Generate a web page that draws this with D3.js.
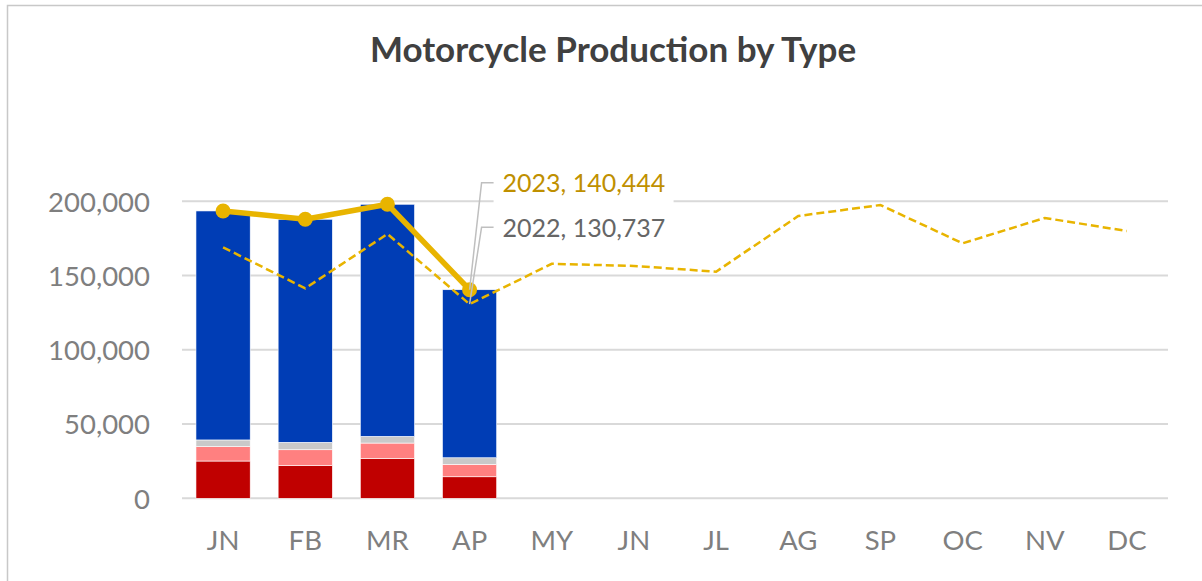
<!DOCTYPE html>
<html>
<head>
<meta charset="utf-8">
<script src="https://cdn.jsdelivr.net/npm/d3@7"></script>
<style>
    body { margin: 0; background: #fff; }
    svg text { font-family: Lato, 'Open Sans', sans-serif; }
</style>
</head>
<body>
<div id="chart"></div>
<script>
// Data
const months = ['JN', 'FB', 'MR', 'AP', 'MY', 'JN ', 'JL', 'AG', 'SP', 'OC', 'NV', 'DC'];
const monthLabels = ['JN', 'FB', 'MR', 'AP', 'MY', 'JN', 'JL', 'AG', 'SP', 'OC', 'NV', 'DC'];
const typeKeys = ['typeA', 'typeB', 'typeC', 'typeD']; // bottom to top
const typeColors = ['#c00000', '#ff8080', '#c9c9c9', '#003db5'];
const typeA = [25100, 22000, 26900, 14500];
const typeB = [9700, 10700, 10300, 8400];
const typeC = [4500, 5000, 4500, 4400];
const typeD = [154200, 150200, 156300, 113144];
const total2023 = [193500, 187900, 198000, 140444];
const total2022 = [169000, 141400, 178000, 130737, 157900, 156500, 152600, 190100, 197500, 171700, 188800, 180000];
const yTicks = [0, 50000, 100000, 150000, 200000];

function draw() {
    const dimensions = {
        width: 1202,
        height: 581,
        left: 182,
        right: 1168,
        top: 201.3,
        bottom: 498.3
    }

    const svg = d3.select('#chart')
        .append('svg')
        .attr('width', dimensions.width)
        .attr('height', dimensions.height)

    // chart frame
    svg.append('rect')
        .attr('x', 7.5)
        .attr('y', 5.5)
        .attr('width', 1210)
        .attr('height', 600)
        .attr('fill', 'none')
        .attr('stroke', '#c8c8c8')
        .attr('stroke-width', 1.5)

    svg.append('text')
        .attr('x', 613)
        .attr('y', 62)
        .attr('text-anchor', 'middle')
        .attr('font-size', 35)
        .attr('font-weight', 'bold')
        .attr('fill', '#404040')
        .text('Motorcycle Production by Type')

    // Scales
    const xScale = d3.scaleBand()
        .domain(months)
        .range([dimensions.left, dimensions.right])
        .paddingInner(0.34)
        .paddingOuter(0.17)

    const xCenter = d => xScale(d) + xScale.bandwidth() / 2

    const yScale = d3.scaleLinear()
        .domain([0, 200000])
        .range([dimensions.bottom, dimensions.top])

    // gridlines
    svg.append('g')
        .selectAll('line')
        .data(yTicks)
        .join('line')
        .attr('x1', dimensions.left)
        .attr('x2', dimensions.right)
        .attr('y1', d => yScale(d))
        .attr('y2', d => yScale(d))
        .attr('stroke', '#d9d9d9')
        .attr('stroke-width', 2)

    // y axis labels
    const yAxis = d3.axisLeft(yScale)
        .tickValues(yTicks)
        .tickFormat(d3.format(','))
        .tickSize(0)
        .tickPadding(0)

    const yAxisGroup = svg.append('g')
        .attr('transform', 'translate(150, 0)')
        .call(yAxis)
    yAxisGroup.select('.domain').remove()
    yAxisGroup.selectAll('text')
        .attr('font-size', 27.5)
        .attr('font-family', 'Lato, sans-serif')
        .attr('fill', '#7f7f7f')
        .attr('dy', '0.36em')

    // x axis labels
    const xAxis = d3.axisBottom(xScale)
        .tickFormat((d, i) => monthLabels[i])
        .tickSize(0)
        .tickPadding(0)

    const xAxisGroup = svg.append('g')
        .attr('transform', 'translate(0, 550)')
        .call(xAxis)
    xAxisGroup.select('.domain').remove()
    xAxisGroup.selectAll('text')
        .attr('font-size', 27.5)
        .attr('font-family', 'Lato, sans-serif')
        .attr('fill', '#7f7f7f')
        .attr('dy', 0)

    // stacked bars
    const table = typeA.map((v, i) => ({
        month: months[i],
        typeA: typeA[i],
        typeB: typeB[i],
        typeC: typeC[i],
        typeD: typeD[i]
    }))
    const stacked = d3.stack().keys(typeKeys)(table)

    svg.append('g')
        .selectAll('g')
        .data(stacked)
        .join('g')
        .attr('fill', (d, i) => typeColors[i])
        .selectAll('rect')
        .data(d => d)
        .join('rect')
        .attr('x', d => xScale(d.data.month))
        .attr('y', d => yScale(d[1]))
        .attr('width', xScale.bandwidth())
        .attr('height', d => yScale(d[0]) - yScale(d[1]))
        .attr('stroke', '#ffffff')
        .attr('stroke-width', 0.6)

    // 2022 dashed line
    const line = d3.line()
        .x(d => xCenter(d.month))
        .y(d => yScale(d.value))

    const data2022 = total2022.map((v, i) => ({ month: months[i], value: v }))
    const data2023 = total2023.map((v, i) => ({ month: months[i], value: v }))

    svg.append('path')
        .datum(data2022)
        .attr('d', line)
        .attr('fill', 'none')
        .attr('stroke', '#e8b400')
        .attr('stroke-width', 2.5)
        .attr('stroke-dasharray', '8,4')

    // 2023 solid line with markers
    svg.append('path')
        .datum(data2023)
        .attr('d', line)
        .attr('fill', 'none')
        .attr('stroke', '#e8b400')
        .attr('stroke-width', 5.5)
        .attr('stroke-linejoin', 'round')

    svg.append('g')
        .selectAll('circle')
        .data(data2023)
        .join('circle')
        .attr('cx', d => xCenter(d.month))
        .attr('cy', d => yScale(d.value))
        .attr('r', 7.5)
        .attr('fill', '#e8b400')

    // data labels on the April points
    const labels = [
        { d: data2023[3], year: '2023', color: '#bf9000', dy: -107, dyText: 9 },
        { d: data2022[3], year: '2022', color: '#666666', dy: -77, dyText: 10 }
    ]

    labels.forEach(l => {
        const px = xCenter(l.d.month)
        const py = yScale(l.d.value)
        const ly = py + l.dy
        svg.append('rect')
            .attr('x', px + 24)
            .attr('y', ly - 16)
            .attr('width', 180)
            .attr('height', 38)
            .attr('fill', '#ffffff')
        svg.append('polyline')
            .attr('points', `${px},${py} ${px + 12},${ly} ${px + 24},${ly}`)
            .attr('fill', 'none')
            .attr('stroke', '#bfbfbf')
            .attr('stroke-width', 1.5)
        svg.append('text')
            .attr('x', px + 33)
            .attr('y', ly + l.dyText)
            .attr('font-size', 25)
            .attr('fill', l.color)
            .text(`${l.year}, ${d3.format(',')(l.d.value)}`)
    })
}

draw()
</script>
</body>
</html>
